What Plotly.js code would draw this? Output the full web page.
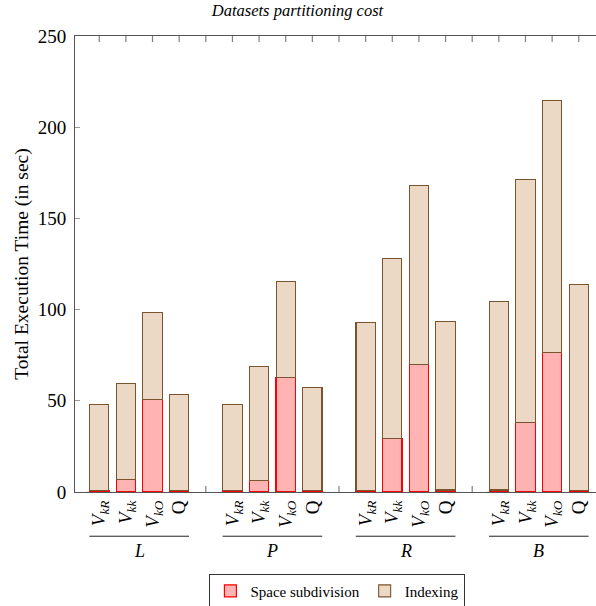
<!DOCTYPE html>
<html>
<head>
<meta charset="utf-8">
<script src="https://cdn.plot.ly/plotly-3.0.1.min.js"></script>
<style>
html,body{margin:0;padding:0;overflow:hidden;background:#fff;}
#chart{width:613px;height:606px;}
</style>
</head>
<body>
<div id="chart"></div>
<script>
// ---- data ----
const groups = ["L", "P", "R", "B"];
const methods = ["<i>V</i><sub><i>kR</i></sub>", "<i>V</i><sub><i>kk</i></sub>", "<i>V</i><sub><i>kO</i></sub>", "Q"];
const spaceSubdivision = [
  0.9, 7.0, 50.8, 0.9,
  0.9, 6.4, 62.9, 0.9,
  1.0, 29.4, 70.0, 1.1,
  1.1, 38.2, 76.6, 1.0
];
const indexing = [
  47.2, 52.6, 47.7, 52.7,
  47.2, 62.5, 52.6, 56.5,
  92.0, 98.5, 98.1, 92.5,
  103.1, 133.2, 138.1, 112.9
];
const seriesNames = ["Space subdivision", "Indexing"];
const yTicks = [0, 50, 100, 150, 200, 250];

// ---- layout helpers ----
const slot = methods.length + 1;           // bars per group + gap
const xs = [], labels = [];
groups.forEach((g, gi) => methods.forEach((m, mi) => { xs.push(gi * slot + mi); labels.push(m); }));
const lastX = (groups.length - 1) * slot + methods.length - 1;
const xRange = [-0.91, lastX + 0.91];
const yRange = [0, 250];
const allSlots = []; for (let i = 0; i <= lastX; i++) allSlots.push(i);
const separators = []; for (let gi = 1; gi < groups.length; gi++) separators.push(gi * slot - 1);

const serif = "Liberation Serif";
const barW = 0.725;
const plotH = 456;
const tickLenData = 6 / plotH * (yRange[1] - yRange[0]);

const traces = [
  {type: "bar", name: seriesNames[0], x: xs, y: spaceSubdivision, width: barW,
   marker: {color: "#ffb3b3", line: {color: "#ff0000", width: 1.2}}, hoverinfo: "skip"},
  {type: "bar", name: seriesNames[1], x: xs, y: indexing, width: barW,
   marker: {color: "#ebd9c5", line: {color: "#7a5430", width: 1.1}}, hoverinfo: "skip"}
];

const shapes = [];
// group underlines
groups.forEach((g, gi) => shapes.push({
  type: "line", xref: "x", yref: "paper",
  x0: gi * slot - 0.37, x1: gi * slot + methods.length - 1 + 0.37,
  y0: -0.097, y1: -0.097, line: {color: "#222", width: 1}
}));
// top-edge ticks at every slot
allSlots.forEach(s => shapes.push({
  type: "line", xref: "x", yref: "y", x0: s, x1: s, y0: yRange[1], y1: yRange[1] - tickLenData,
  line: {color: "#808080", width: 1.2}, layer: "above"
}));
// bottom ticks at group separators
separators.forEach(s => shapes.push({
  type: "line", xref: "x", yref: "y", x0: s, x1: s, y0: yRange[0], y1: yRange[0] + tickLenData,
  line: {color: "#808080", width: 1.2}, layer: "above"
}));

const annotations = groups.map((g, gi) => ({
  xref: "x", yref: "paper", x: gi * slot + (methods.length - 1) / 2, y: -0.13,
  text: "<i>" + g + "</i>", showarrow: false, yanchor: "middle",
  font: {family: serif, size: 18, color: "#000"}
}));

const layout = {
  width: 613, height: 606,
  margin: {l: 75, r: 10, t: 36, b: 114, autoexpand: false},
  paper_bgcolor: "#fff", plot_bgcolor: "#fff",
  barmode: "stack",
  showlegend: true,
  font: {family: serif, color: "#000"},
  title: {text: "<i>Datasets partitioning cost</i>", x: 297.5 / 613, xref: "container",
          y: 1 - 10 / 606, yref: "container", yanchor: "middle",
          font: {family: serif, size: 16.5, color: "#000"}},
  xaxis: {range: xRange, tickmode: "array", tickvals: xs, ticktext: labels, automargin: false,
          tickangle: -90, ticks: "", showgrid: false, zeroline: false,
          showline: true, mirror: true, linecolor: "#555", linewidth: 1,
          tickfont: {family: serif, size: 19, color: "#000"}},
  yaxis: {range: yRange, tickmode: "array", tickvals: yTicks, ticks: "inside", automargin: false,
          ticklen: 5, tickcolor: "#999", showgrid: false, zeroline: false,
          showline: true, linecolor: "#555", linewidth: 1, ticklabelstandoff: 4,
          tickfont: {family: serif, size: 19, color: "#000"},
          title: {text: "Total Execution Time (in sec)", standoff: 3,
                  font: {family: serif, size: 19.5, color: "#000"}}},
  legend: {orientation: "h", x: 0.497, xanchor: "center", y: -0.179, yanchor: "top",
           bordercolor: "#333", borderwidth: 1, bgcolor: "#fff",
           font: {family: serif, size: 15, color: "#000"},
           traceorder: "normal", itemwidth: 30},
  shapes: shapes,
  annotations: annotations
};

Plotly.newPlot("chart", traces, layout, {staticPlot: true, displayModeBar: false});
</script>
</body>
</html>
